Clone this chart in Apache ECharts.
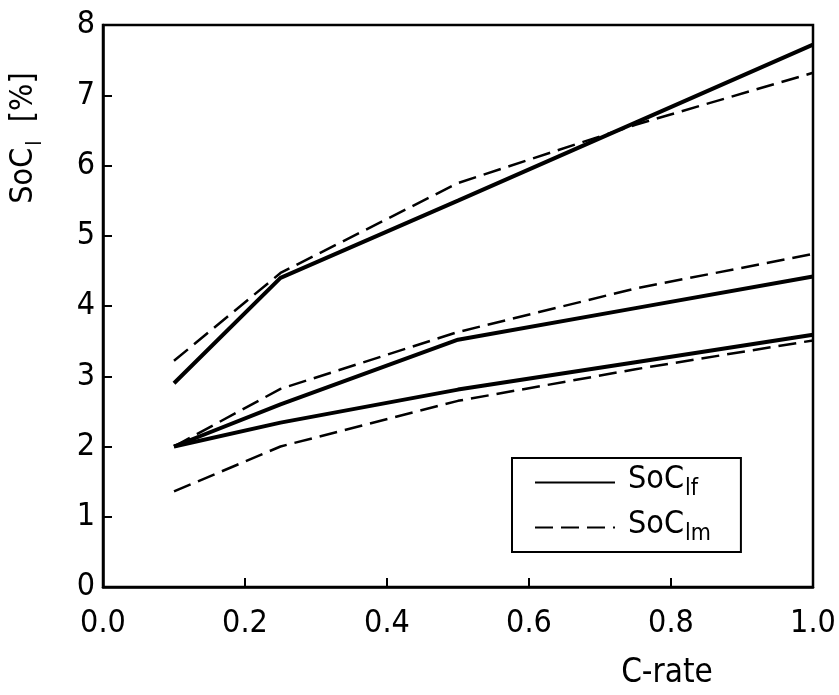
<!DOCTYPE html>
<html>
<head>
<meta charset="utf-8">
<title>SoC vs C-rate</title>
<script src="https://cdn.jsdelivr.net/npm/echarts@6/dist/echarts.min.js"></script>
<style>
html, body { margin: 0; padding: 0; background: #fff; }
#chart { width: 839px; height: 695px; }
</style>
</head>
<body>
<div id="chart"></div>
<script>
// C-rate values where the curves are sampled
var cRate = [0.1, 0.25, 0.5, 0.75, 1.0];

// SoC_lf (solid) - three curves, top / middle / bottom
var lfTop = [2.9, 4.4, 5.5, 6.61, 7.72];
var lfMid = [2.0, 2.6, 3.52, 3.97, 4.42];
var lfLow = [2.0, 2.34, 2.81, 3.2, 3.59];

// SoC_lm (dashed)
var lmTop = [3.22, 4.47, 5.75, 6.58, 7.32];
var lmMid = [2.0, 2.82, 3.63, 4.25, 4.74];
var lmLow = [1.36, 2.0, 2.65, 3.1, 3.51];

var xTicks = [0, 0.2, 0.4, 0.6, 0.8, 1.0];
var yTicks = [0, 1, 2, 3, 4, 5, 6, 7, 8];

var FONT = '"DejaVu Sans Condensed", "DejaVu Sans", sans-serif';

function pairs(ys) {
    var out = [];
    for (var i = 0; i < cRate.length; i++) {
        out.push([cRate[i], ys[i]]);
    }
    return out;
}

function solid(ys) {
    return {
        name: 'lf',
        type: 'line',
        symbol: 'none',
        silent: true,
        color: '#000',
        lineStyle: { color: '#000', width: 4, type: 'solid' },
        data: pairs(ys)
    };
}

function dashed(ys) {
    return {
        name: 'lm',
        type: 'line',
        symbol: 'none',
        silent: true,
        color: '#000',
        lineStyle: { color: '#000', width: 2.5, type: [18, 8] },
        data: pairs(ys)
    };
}

var myChart = echarts.init(document.getElementById('chart'));
var option = {
    animation: false,
    backgroundColor: '#fff',
    grid: {
        left: 103,
        right: 26,
        top: 25,
        bottom: 108,
        show: true,
        borderColor: '#000',
        borderWidth: 2.5
    },
    legend: {
        data: ['lf', 'lm'],
        orient: 'vertical',
        left: 512,
        top: 458,
        padding: [6, 30, 6, 22],
        itemWidth: 80,
        itemHeight: 30,
        itemGap: 8,
        borderColor: '#000',
        borderWidth: 2,
        selectedMode: false,
        itemStyle: { opacity: 0 },
        formatter: function (name) {
            return '{a|SoC}{b|' + name + '}';
        },
        textStyle: {
            color: '#000',
            fontFamily: FONT,
            rich: {
                a: { fontSize: 32, fontFamily: FONT, color: '#000', verticalAlign: 'bottom', padding: [0, 0, 5, 8] },
                b: { fontSize: 23, fontFamily: FONT, color: '#000', verticalAlign: 'bottom', padding: [0, 0, 0, 1] }
            }
        }
    },
    xAxis: {
        type: 'value',
        min: 0,
        max: 1,
        interval: 0.2,
        splitLine: { show: false },
        axisLine: { show: true, lineStyle: { color: '#000', width: 2.5 } },
        axisTick: { show: true, inside: true, length: 9, lineStyle: { color: '#000', width: 2 } },
        axisLabel: {
            color: '#000',
            fontSize: 32,
            fontFamily: FONT,
            margin: 21,
            showMinLabel: true,
            showMaxLabel: true,
            formatter: function (v) { return v.toFixed(1); }
        }
    },
    yAxis: {
        type: 'value',
        min: 0,
        max: 8,
        interval: 1,
        splitLine: { show: false },
        axisLine: { show: true, lineStyle: { color: '#000', width: 2.5 } },
        axisTick: { show: true, inside: true, length: 9, lineStyle: { color: '#000', width: 2 } },
        axisLabel: {
            color: '#000',
            fontSize: 32,
            fontFamily: FONT,
            margin: 8,
            showMinLabel: true,
            showMaxLabel: true
        }
    },
    graphic: [
        {
            type: 'text',
            x: 27,
            y: 138,
            rotation: Math.PI / 2,
            silent: true,
            style: {
                text: '{a|SoC}{b|l}{a|  [%]}',
                align: 'center',
                verticalAlign: 'middle',
                fill: '#000',
                rich: {
                    a: { fontSize: 32, fontFamily: FONT, fill: '#000', verticalAlign: 'bottom', padding: [0, 0, 6, 0] },
                    b: { fontSize: 21, fontFamily: FONT, fill: '#000', verticalAlign: 'bottom', padding: [0, 0, 0, 2] }
                }
            }
        },
        {
            type: 'text',
            x: 667,
            y: 673,
            silent: true,
            style: {
                text: 'C-rate',
                align: 'center',
                verticalAlign: 'middle',
                fill: '#000',
                fontSize: 33,
                fontFamily: FONT
            }
        }
    ],
    series: [
        solid(lfTop),
        solid(lfMid),
        solid(lfLow),
        dashed(lmTop),
        dashed(lmMid),
        dashed(lmLow)
    ]
};
myChart.setOption(option);
</script>
</body>
</html>
